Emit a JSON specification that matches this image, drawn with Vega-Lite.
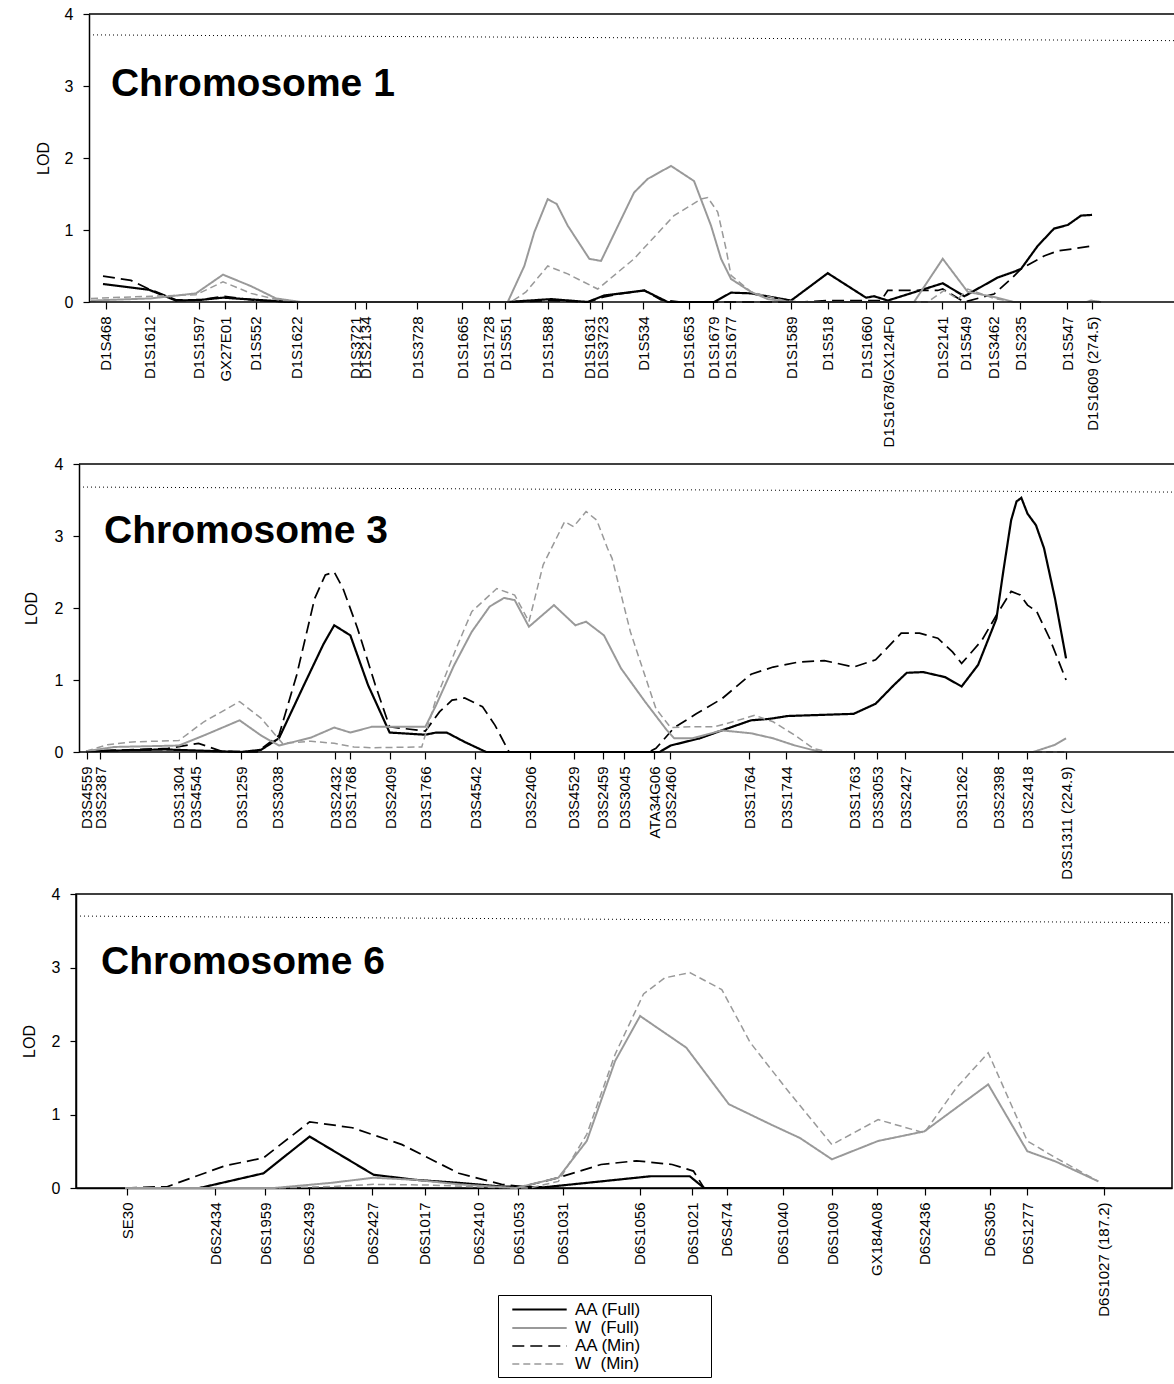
{
  "$schema": "https://vega.github.io/schema/vega-lite/v6.json",
  "background": "white",
  "padding": {"left": 20, "top": 6, "right": 0, "bottom": 0},
  "config": {
    "font": "Liberation Sans",
    "view": {"stroke": null},
    "axis": {"labelColor": "black", "tickColor": "black", "domainColor": "black", "titleColor": "black", "grid": false, "labelFont": "Liberation Sans", "titleFont": "Liberation Sans", "domainWidth": 1.5, "tickWidth": 1.2}
  },
  "datasets": {
    "curves": [
      {"chrom":1,"series":"AA (Full)","cM":3.83,"LOD":0.25},{"chrom":1,"series":"AA (Full)","cM":16.42,"LOD":0.17},{"chrom":1,"series":"AA (Full)","cM":23.81,"LOD":0.02},{"chrom":1,"series":"AA (Full)","cM":30.65,"LOD":0.03},{"chrom":1,"series":"AA (Full)","cM":36.67,"LOD":0.06},{"chrom":1,"series":"AA (Full)","cM":45.98,"LOD":0.03},{"chrom":1,"series":"AA (Full)","cM":55.28,"LOD":0},{"chrom":1,"series":"AA (Full)","cM":114.59,"LOD":0},{"chrom":1,"series":"AA (Full)","cM":126.44,"LOD":0.04},{"chrom":1,"series":"AA (Full)","cM":136.48,"LOD":0},{"chrom":1,"series":"AA (Full)","cM":140.95,"LOD":0.09},{"chrom":1,"series":"AA (Full)","cM":151.97,"LOD":0.16},{"chrom":1,"series":"AA (Full)","cM":158.38,"LOD":0},{"chrom":1,"series":"AA (Full)","cM":171.05,"LOD":0},{"chrom":1,"series":"AA (Full)","cM":175.7,"LOD":0.13},{"chrom":1,"series":"AA (Full)","cM":181.18,"LOD":0.12},{"chrom":1,"series":"AA (Full)","cM":192.12,"LOD":0.02},{"chrom":1,"series":"AA (Full)","cM":202.17,"LOD":0.4},{"chrom":1,"series":"AA (Full)","cM":212.65,"LOD":0.06},{"chrom":1,"series":"AA (Full)","cM":214.84,"LOD":0.08},{"chrom":1,"series":"AA (Full)","cM":218.59,"LOD":0.02},{"chrom":1,"series":"AA (Full)","cM":233.64,"LOD":0.26},{"chrom":1,"series":"AA (Full)","cM":239.55,"LOD":0.08},{"chrom":1,"series":"AA (Full)","cM":248.69,"LOD":0.34},{"chrom":1,"series":"AA (Full)","cM":253.15,"LOD":0.42},{"chrom":1,"series":"AA (Full)","cM":255.07,"LOD":0.46},{"chrom":1,"series":"AA (Full)","cM":259.64,"LOD":0.78},{"chrom":1,"series":"AA (Full)","cM":264.1,"LOD":1.02},{"chrom":1,"series":"AA (Full)","cM":267.85,"LOD":1.07},{"chrom":1,"series":"AA (Full)","cM":271.49,"LOD":1.2},{"chrom":1,"series":"AA (Full)","cM":274.5,"LOD":1.21},
      {"chrom":1,"series":"AA (Min)","cM":3.83,"LOD":0.36},{"chrom":1,"series":"AA (Min)","cM":11.49,"LOD":0.3},{"chrom":1,"series":"AA (Min)","cM":16.42,"LOD":0.18},{"chrom":1,"series":"AA (Min)","cM":23.81,"LOD":0.03},{"chrom":1,"series":"AA (Min)","cM":30.65,"LOD":0.03},{"chrom":1,"series":"AA (Min)","cM":36.67,"LOD":0.08},{"chrom":1,"series":"AA (Min)","cM":45.98,"LOD":0.02},{"chrom":1,"series":"AA (Min)","cM":55.28,"LOD":0},{"chrom":1,"series":"AA (Min)","cM":114.59,"LOD":0},{"chrom":1,"series":"AA (Min)","cM":126.44,"LOD":0.02},{"chrom":1,"series":"AA (Min)","cM":136.48,"LOD":0},{"chrom":1,"series":"AA (Min)","cM":140.95,"LOD":0.07},{"chrom":1,"series":"AA (Min)","cM":144.69,"LOD":0.11},{"chrom":1,"series":"AA (Min)","cM":151.97,"LOD":0.16},{"chrom":1,"series":"AA (Min)","cM":156.54,"LOD":0.03},{"chrom":1,"series":"AA (Min)","cM":162.02,"LOD":0},{"chrom":1,"series":"AA (Min)","cM":194.86,"LOD":0},{"chrom":1,"series":"AA (Min)","cM":202.17,"LOD":0.02},{"chrom":1,"series":"AA (Min)","cM":216.75,"LOD":0.02},{"chrom":1,"series":"AA (Min)","cM":218.59,"LOD":0.16},{"chrom":1,"series":"AA (Min)","cM":232.27,"LOD":0.16},{"chrom":1,"series":"AA (Min)","cM":233.64,"LOD":0.18},{"chrom":1,"series":"AA (Min)","cM":239.47,"LOD":0},{"chrom":1,"series":"AA (Min)","cM":247.68,"LOD":0.11},{"chrom":1,"series":"AA (Min)","cM":252.33,"LOD":0.32},{"chrom":1,"series":"AA (Min)","cM":255.07,"LOD":0.46},{"chrom":1,"series":"AA (Min)","cM":261.36,"LOD":0.64},{"chrom":1,"series":"AA (Min)","cM":265.11,"LOD":0.71},{"chrom":1,"series":"AA (Min)","cM":269.57,"LOD":0.74},{"chrom":1,"series":"AA (Min)","cM":274.5,"LOD":0.78},
      {"chrom":1,"series":"W (Full)","cM":0.55,"LOD":0.02},{"chrom":1,"series":"W (Full)","cM":16.97,"LOD":0.05},{"chrom":1,"series":"W (Full)","cM":29.28,"LOD":0.12},{"chrom":1,"series":"W (Full)","cM":36.67,"LOD":0.38},{"chrom":1,"series":"W (Full)","cM":44.34,"LOD":0.22},{"chrom":1,"series":"W (Full)","cM":51.18,"LOD":0.05},{"chrom":1,"series":"W (Full)","cM":58.02,"LOD":0},{"chrom":1,"series":"W (Full)","cM":114.59,"LOD":0},{"chrom":1,"series":"W (Full)","cM":119.13,"LOD":0.5},{"chrom":1,"series":"W (Full)","cM":121.87,"LOD":0.97},{"chrom":1,"series":"W (Full)","cM":125.54,"LOD":1.43},{"chrom":1,"series":"W (Full)","cM":128.0,"LOD":1.36},{"chrom":1,"series":"W (Full)","cM":131.01,"LOD":1.06},{"chrom":1,"series":"W (Full)","cM":136.92,"LOD":0.6},{"chrom":1,"series":"W (Full)","cM":140.12,"LOD":0.57},{"chrom":1,"series":"W (Full)","cM":149.16,"LOD":1.52},{"chrom":1,"series":"W (Full)","cM":152.9,"LOD":1.71},{"chrom":1,"series":"W (Full)","cM":159.28,"LOD":1.89},{"chrom":1,"series":"W (Full)","cM":165.58,"LOD":1.68},{"chrom":1,"series":"W (Full)","cM":170.23,"LOD":1.06},{"chrom":1,"series":"W (Full)","cM":172.97,"LOD":0.6},{"chrom":1,"series":"W (Full)","cM":175.7,"LOD":0.32},{"chrom":1,"series":"W (Full)","cM":181.18,"LOD":0.14},{"chrom":1,"series":"W (Full)","cM":185.75,"LOD":0.04},{"chrom":1,"series":"W (Full)","cM":192.12,"LOD":0},{"chrom":1,"series":"W (Full)","cM":225.79,"LOD":0},{"chrom":1,"series":"W (Full)","cM":233.64,"LOD":0.6},{"chrom":1,"series":"W (Full)","cM":240.48,"LOD":0.14},{"chrom":1,"series":"W (Full)","cM":247.68,"LOD":0.07},{"chrom":1,"series":"W (Full)","cM":253.15,"LOD":0},{"chrom":1,"series":"W (Full)","cM":272.86,"LOD":0},{"chrom":1,"series":"W (Full)","cM":274.23,"LOD":0.02},{"chrom":1,"series":"W (Full)","cM":276.96,"LOD":0},
      {"chrom":1,"series":"W (Min)","cM":0.55,"LOD":0.05},{"chrom":1,"series":"W (Min)","cM":16.97,"LOD":0.08},{"chrom":1,"series":"W (Min)","cM":29.28,"LOD":0.1},{"chrom":1,"series":"W (Min)","cM":36.67,"LOD":0.28},{"chrom":1,"series":"W (Min)","cM":44.34,"LOD":0.12},{"chrom":1,"series":"W (Min)","cM":52.55,"LOD":0.02},{"chrom":1,"series":"W (Min)","cM":58.02,"LOD":0},{"chrom":1,"series":"W (Min)","cM":115.49,"LOD":0},{"chrom":1,"series":"W (Min)","cM":119.6,"LOD":0.14},{"chrom":1,"series":"W (Min)","cM":125.54,"LOD":0.5},{"chrom":1,"series":"W (Min)","cM":131.01,"LOD":0.39},{"chrom":1,"series":"W (Min)","cM":139.22,"LOD":0.18},{"chrom":1,"series":"W (Min)","cM":149.16,"LOD":0.6},{"chrom":1,"series":"W (Min)","cM":160.1,"LOD":1.2},{"chrom":1,"series":"W (Min)","cM":167.49,"LOD":1.43},{"chrom":1,"series":"W (Min)","cM":169.32,"LOD":1.45},{"chrom":1,"series":"W (Min)","cM":172.06,"LOD":1.25},{"chrom":1,"series":"W (Min)","cM":174.33,"LOD":0.74},{"chrom":1,"series":"W (Min)","cM":175.7,"LOD":0.37},{"chrom":1,"series":"W (Min)","cM":181.18,"LOD":0.14},{"chrom":1,"series":"W (Min)","cM":190.21,"LOD":0.02},{"chrom":1,"series":"W (Min)","cM":194.86,"LOD":0},{"chrom":1,"series":"W (Min)","cM":229.54,"LOD":0},{"chrom":1,"series":"W (Min)","cM":234.0,"LOD":0.16},{"chrom":1,"series":"W (Min)","cM":237.74,"LOD":0.04},{"chrom":1,"series":"W (Min)","cM":240.48,"LOD":0.18},{"chrom":1,"series":"W (Min)","cM":247.68,"LOD":0.05},{"chrom":1,"series":"W (Min)","cM":253.15,"LOD":0},{"chrom":1,"series":"W (Min)","cM":276.96,"LOD":0},

      {"chrom":3,"series":"AA (Full)","cM":1.6,"LOD":0.01},{"chrom":3,"series":"AA (Full)","cM":19.5,"LOD":0.035},{"chrom":3,"series":"AA (Full)","cM":27.23,"LOD":0.02},{"chrom":3,"series":"AA (Full)","cM":36.91,"LOD":0},{"chrom":3,"series":"AA (Full)","cM":41.47,"LOD":0.03},{"chrom":3,"series":"AA (Full)","cM":45.55,"LOD":0.19},{"chrom":3,"series":"AA (Full)","cM":51.25,"LOD":0.93},{"chrom":3,"series":"AA (Full)","cM":55.71,"LOD":1.5},{"chrom":3,"series":"AA (Full)","cM":58.15,"LOD":1.76},{"chrom":3,"series":"AA (Full)","cM":61.82,"LOD":1.62},{"chrom":3,"series":"AA (Full)","cM":65.85,"LOD":0.93},{"chrom":3,"series":"AA (Full)","cM":70.77,"LOD":0.27},{"chrom":3,"series":"AA (Full)","cM":78.91,"LOD":0.24},{"chrom":3,"series":"AA (Full)","cM":81.35,"LOD":0.27},{"chrom":3,"series":"AA (Full)","cM":83.78,"LOD":0.27},{"chrom":3,"series":"AA (Full)","cM":87.86,"LOD":0.14},{"chrom":3,"series":"AA (Full)","cM":92.74,"LOD":0},{"chrom":3,"series":"AA (Full)","cM":132.29,"LOD":0},{"chrom":3,"series":"AA (Full)","cM":134.78,"LOD":0.09},{"chrom":3,"series":"AA (Full)","cM":141.45,"LOD":0.19},{"chrom":3,"series":"AA (Full)","cM":146.47,"LOD":0.3},{"chrom":3,"series":"AA (Full)","cM":153.12,"LOD":0.44},{"chrom":3,"series":"AA (Full)","cM":157.31,"LOD":0.46},{"chrom":3,"series":"AA (Full)","cM":161.48,"LOD":0.5},{"chrom":3,"series":"AA (Full)","cM":176.5,"LOD":0.53},{"chrom":3,"series":"AA (Full)","cM":181.49,"LOD":0.67},{"chrom":3,"series":"AA (Full)","cM":185.66,"LOD":0.93},{"chrom":3,"series":"AA (Full)","cM":188.58,"LOD":1.1},{"chrom":3,"series":"AA (Full)","cM":192.34,"LOD":1.11},{"chrom":3,"series":"AA (Full)","cM":197.33,"LOD":1.04},{"chrom":3,"series":"AA (Full)","cM":201.09,"LOD":0.91},{"chrom":3,"series":"AA (Full)","cM":204.84,"LOD":1.21},{"chrom":3,"series":"AA (Full)","cM":209.01,"LOD":1.85},{"chrom":3,"series":"AA (Full)","cM":210.68,"LOD":2.55},{"chrom":3,"series":"AA (Full)","cM":212.37,"LOD":3.22},{"chrom":3,"series":"AA (Full)","cM":213.6,"LOD":3.48},{"chrom":3,"series":"AA (Full)","cM":214.69,"LOD":3.53},{"chrom":3,"series":"AA (Full)","cM":216.1,"LOD":3.31},{"chrom":3,"series":"AA (Full)","cM":218.02,"LOD":3.15},{"chrom":3,"series":"AA (Full)","cM":219.86,"LOD":2.83},{"chrom":3,"series":"AA (Full)","cM":222.37,"LOD":2.13},{"chrom":3,"series":"AA (Full)","cM":224.88,"LOD":1.3},
      {"chrom":3,"series":"AA (Min)","cM":1.6,"LOD":0.01},{"chrom":3,"series":"AA (Min)","cM":20.28,"LOD":0.05},{"chrom":3,"series":"AA (Min)","cM":27.23,"LOD":0.12},{"chrom":3,"series":"AA (Min)","cM":32.52,"LOD":0.01},{"chrom":3,"series":"AA (Min)","cM":40.56,"LOD":0},{"chrom":3,"series":"AA (Min)","cM":45.55,"LOD":0.23},{"chrom":3,"series":"AA (Min)","cM":49.6,"LOD":1.07},{"chrom":3,"series":"AA (Min)","cM":53.68,"LOD":2.13},{"chrom":3,"series":"AA (Min)","cM":56.12,"LOD":2.46},{"chrom":3,"series":"AA (Min)","cM":58.15,"LOD":2.5},{"chrom":3,"series":"AA (Min)","cM":60.16,"LOD":2.27},{"chrom":3,"series":"AA (Min)","cM":63.44,"LOD":1.72},{"chrom":3,"series":"AA (Min)","cM":67.51,"LOD":0.93},{"chrom":3,"series":"AA (Min)","cM":70.77,"LOD":0.35},{"chrom":3,"series":"AA (Min)","cM":78.91,"LOD":0.29},{"chrom":3,"series":"AA (Min)","cM":82.17,"LOD":0.56},{"chrom":3,"series":"AA (Min)","cM":84.99,"LOD":0.72},{"chrom":3,"series":"AA (Min)","cM":87.86,"LOD":0.75},{"chrom":3,"series":"AA (Min)","cM":91.92,"LOD":0.63},{"chrom":3,"series":"AA (Min)","cM":94.79,"LOD":0.37},{"chrom":3,"series":"AA (Min)","cM":97.98,"LOD":0},{"chrom":3,"series":"AA (Min)","cM":129.79,"LOD":0},{"chrom":3,"series":"AA (Min)","cM":131.45,"LOD":0.05},{"chrom":3,"series":"AA (Min)","cM":135.62,"LOD":0.34},{"chrom":3,"series":"AA (Min)","cM":140.63,"LOD":0.53},{"chrom":3,"series":"AA (Min)","cM":146.47,"LOD":0.74},{"chrom":3,"series":"AA (Min)","cM":153.12,"LOD":1.08},{"chrom":3,"series":"AA (Min)","cM":158.14,"LOD":1.18},{"chrom":3,"series":"AA (Min)","cM":163.99,"LOD":1.25},{"chrom":3,"series":"AA (Min)","cM":169.82,"LOD":1.27},{"chrom":3,"series":"AA (Min)","cM":176.5,"LOD":1.18},{"chrom":3,"series":"AA (Min)","cM":181.49,"LOD":1.28},{"chrom":3,"series":"AA (Min)","cM":187.32,"LOD":1.65},{"chrom":3,"series":"AA (Min)","cM":191.49,"LOD":1.65},{"chrom":3,"series":"AA (Min)","cM":195.66,"LOD":1.58},{"chrom":3,"series":"AA (Min)","cM":199.01,"LOD":1.39},{"chrom":3,"series":"AA (Min)","cM":201.09,"LOD":1.23},{"chrom":3,"series":"AA (Min)","cM":205.69,"LOD":1.55},{"chrom":3,"series":"AA (Min)","cM":209.01,"LOD":1.9},{"chrom":3,"series":"AA (Min)","cM":212.37,"LOD":2.23},{"chrom":3,"series":"AA (Min)","cM":214.44,"LOD":2.18},{"chrom":3,"series":"AA (Min)","cM":216.1,"LOD":2.04},{"chrom":3,"series":"AA (Min)","cM":218.2,"LOD":1.95},{"chrom":3,"series":"AA (Min)","cM":221.12,"LOD":1.58},{"chrom":3,"series":"AA (Min)","cM":224.88,"LOD":1.0},
      {"chrom":3,"series":"W (Full)","cM":1.6,"LOD":0.01},{"chrom":3,"series":"W (Full)","cM":8.11,"LOD":0.07},{"chrom":3,"series":"W (Full)","cM":22.76,"LOD":0.09},{"chrom":3,"series":"W (Full)","cM":28.46,"LOD":0.23},{"chrom":3,"series":"W (Full)","cM":36.59,"LOD":0.44},{"chrom":3,"series":"W (Full)","cM":41.47,"LOD":0.23},{"chrom":3,"series":"W (Full)","cM":45.55,"LOD":0.09},{"chrom":3,"series":"W (Full)","cM":52.86,"LOD":0.2},{"chrom":3,"series":"W (Full)","cM":58.15,"LOD":0.34},{"chrom":3,"series":"W (Full)","cM":61.82,"LOD":0.27},{"chrom":3,"series":"W (Full)","cM":66.69,"LOD":0.35},{"chrom":3,"series":"W (Full)","cM":78.91,"LOD":0.35},{"chrom":3,"series":"W (Full)","cM":81.35,"LOD":0.65},{"chrom":3,"series":"W (Full)","cM":85.42,"LOD":1.2},{"chrom":3,"series":"W (Full)","cM":89.48,"LOD":1.67},{"chrom":3,"series":"W (Full)","cM":93.56,"LOD":2.02},{"chrom":3,"series":"W (Full)","cM":96.82,"LOD":2.14},{"chrom":3,"series":"W (Full)","cM":99.26,"LOD":2.11},{"chrom":3,"series":"W (Full)","cM":102.51,"LOD":1.74},{"chrom":3,"series":"W (Full)","cM":108.21,"LOD":2.04},{"chrom":3,"series":"W (Full)","cM":113.09,"LOD":1.76},{"chrom":3,"series":"W (Full)","cM":115.52,"LOD":1.81},{"chrom":3,"series":"W (Full)","cM":119.6,"LOD":1.62},{"chrom":3,"series":"W (Full)","cM":123.5,"LOD":1.16},{"chrom":3,"series":"W (Full)","cM":128.95,"LOD":0.7},{"chrom":3,"series":"W (Full)","cM":133.96,"LOD":0.3},{"chrom":3,"series":"W (Full)","cM":135.62,"LOD":0.19},{"chrom":3,"series":"W (Full)","cM":139.79,"LOD":0.19},{"chrom":3,"series":"W (Full)","cM":146.47,"LOD":0.3},{"chrom":3,"series":"W (Full)","cM":153.12,"LOD":0.26},{"chrom":3,"series":"W (Full)","cM":158.14,"LOD":0.19},{"chrom":3,"series":"W (Full)","cM":163.15,"LOD":0.09},{"chrom":3,"series":"W (Full)","cM":168.98,"LOD":0},{"chrom":3,"series":"W (Full)","cM":217.36,"LOD":0},{"chrom":3,"series":"W (Full)","cM":222.37,"LOD":0.1},{"chrom":3,"series":"W (Full)","cM":224.88,"LOD":0.19},
      {"chrom":3,"series":"W (Min)","cM":1.6,"LOD":0.01},{"chrom":3,"series":"W (Min)","cM":6.47,"LOD":0.1},{"chrom":3,"series":"W (Min)","cM":12.17,"LOD":0.14},{"chrom":3,"series":"W (Min)","cM":22.76,"LOD":0.16},{"chrom":3,"series":"W (Min)","cM":28.46,"LOD":0.42},{"chrom":3,"series":"W (Min)","cM":36.59,"LOD":0.7},{"chrom":3,"series":"W (Min)","cM":41.47,"LOD":0.47},{"chrom":3,"series":"W (Min)","cM":46.35,"LOD":0.12},{"chrom":3,"series":"W (Min)","cM":52.86,"LOD":0.15},{"chrom":3,"series":"W (Min)","cM":58.15,"LOD":0.12},{"chrom":3,"series":"W (Min)","cM":62.64,"LOD":0.07},{"chrom":3,"series":"W (Min)","cM":66.69,"LOD":0.06},{"chrom":3,"series":"W (Min)","cM":78.09,"LOD":0.07},{"chrom":3,"series":"W (Min)","cM":81.35,"LOD":0.74},{"chrom":3,"series":"W (Min)","cM":86.22,"LOD":1.48},{"chrom":3,"series":"W (Min)","cM":89.48,"LOD":1.95},{"chrom":3,"series":"W (Min)","cM":95.18,"LOD":2.27},{"chrom":3,"series":"W (Min)","cM":99.26,"LOD":2.18},{"chrom":3,"series":"W (Min)","cM":102.51,"LOD":1.81},{"chrom":3,"series":"W (Min)","cM":105.75,"LOD":2.6},{"chrom":3,"series":"W (Min)","cM":110.65,"LOD":3.2},{"chrom":3,"series":"W (Min)","cM":112.68,"LOD":3.13},{"chrom":3,"series":"W (Min)","cM":115.52,"LOD":3.34},{"chrom":3,"series":"W (Min)","cM":117.96,"LOD":3.22},{"chrom":3,"series":"W (Min)","cM":120.4,"LOD":2.83},{"chrom":3,"series":"W (Min)","cM":121.45,"LOD":2.69},{"chrom":3,"series":"W (Min)","cM":125.62,"LOD":1.67},{"chrom":3,"series":"W (Min)","cM":131.45,"LOD":0.6},{"chrom":3,"series":"W (Min)","cM":134.78,"LOD":0.34},{"chrom":3,"series":"W (Min)","cM":139.79,"LOD":0.35},{"chrom":3,"series":"W (Min)","cM":144.8,"LOD":0.35},{"chrom":3,"series":"W (Min)","cM":148.97,"LOD":0.42},{"chrom":3,"series":"W (Min)","cM":153.96,"LOD":0.51},{"chrom":3,"series":"W (Min)","cM":158.14,"LOD":0.42},{"chrom":3,"series":"W (Min)","cM":163.15,"LOD":0.23},{"chrom":3,"series":"W (Min)","cM":167.31,"LOD":0.05},{"chrom":3,"series":"W (Min)","cM":170.67,"LOD":0},{"chrom":3,"series":"W (Min)","cM":224.88,"LOD":0},

      {"chrom":6,"series":"AA (Full)","cM":8.92,"LOD":0},{"chrom":6,"series":"AA (Full)","cM":22.49,"LOD":0},{"chrom":6,"series":"AA (Full)","cM":34.15,"LOD":0.2},{"chrom":6,"series":"AA (Full)","cM":42.55,"LOD":0.7},{"chrom":6,"series":"AA (Full)","cM":54.2,"LOD":0.18},{"chrom":6,"series":"AA (Full)","cM":61.96,"LOD":0.11},{"chrom":6,"series":"AA (Full)","cM":69.72,"LOD":0.07},{"chrom":6,"series":"AA (Full)","cM":77.5,"LOD":0.02},{"chrom":6,"series":"AA (Full)","cM":85.26,"LOD":0.01},{"chrom":6,"series":"AA (Full)","cM":95.62,"LOD":0.09},{"chrom":6,"series":"AA (Full)","cM":104.68,"LOD":0.16},{"chrom":6,"series":"AA (Full)","cM":111.78,"LOD":0.16},{"chrom":6,"series":"AA (Full)","cM":114.38,"LOD":0},{"chrom":6,"series":"AA (Full)","cM":187.42,"LOD":0},
      {"chrom":6,"series":"AA (Min)","cM":8.92,"LOD":0},{"chrom":6,"series":"AA (Min)","cM":16.68,"LOD":0.02},{"chrom":6,"series":"AA (Min)","cM":27.03,"LOD":0.3},{"chrom":6,"series":"AA (Min)","cM":34.15,"LOD":0.41},{"chrom":6,"series":"AA (Min)","cM":42.55,"LOD":0.9},{"chrom":6,"series":"AA (Min)","cM":50.33,"LOD":0.82},{"chrom":6,"series":"AA (Min)","cM":59.38,"LOD":0.59},{"chrom":6,"series":"AA (Min)","cM":69.72,"LOD":0.2},{"chrom":6,"series":"AA (Min)","cM":77.5,"LOD":0.05},{"chrom":6,"series":"AA (Min)","cM":81.38,"LOD":0.02},{"chrom":6,"series":"AA (Min)","cM":87.85,"LOD":0.14},{"chrom":6,"series":"AA (Min)","cM":95.62,"LOD":0.32},{"chrom":6,"series":"AA (Min)","cM":102.09,"LOD":0.37},{"chrom":6,"series":"AA (Min)","cM":108.56,"LOD":0.32},{"chrom":6,"series":"AA (Min)","cM":112.44,"LOD":0.23},{"chrom":6,"series":"AA (Min)","cM":114.38,"LOD":0},{"chrom":6,"series":"AA (Min)","cM":187.42,"LOD":0},
      {"chrom":6,"series":"W (Full)","cM":8.92,"LOD":0},{"chrom":6,"series":"W (Full)","cM":36.06,"LOD":0},{"chrom":6,"series":"W (Full)","cM":46.45,"LOD":0.07},{"chrom":6,"series":"W (Full)","cM":54.2,"LOD":0.14},{"chrom":6,"series":"W (Full)","cM":61.96,"LOD":0.11},{"chrom":6,"series":"W (Full)","cM":69.72,"LOD":0.05},{"chrom":6,"series":"W (Full)","cM":80.09,"LOD":0},{"chrom":6,"series":"W (Full)","cM":87.85,"LOD":0.14},{"chrom":6,"series":"W (Full)","cM":93.02,"LOD":0.64},{"chrom":6,"series":"W (Full)","cM":98.19,"LOD":1.73},{"chrom":6,"series":"W (Full)","cM":102.73,"LOD":2.34},{"chrom":6,"series":"W (Full)","cM":111.14,"LOD":1.91},{"chrom":6,"series":"W (Full)","cM":118.9,"LOD":1.14},{"chrom":6,"series":"W (Full)","cM":126.66,"LOD":0.86},{"chrom":6,"series":"W (Full)","cM":131.85,"LOD":0.68},{"chrom":6,"series":"W (Full)","cM":137.66,"LOD":0.39},{"chrom":6,"series":"W (Full)","cM":146.08,"LOD":0.64},{"chrom":6,"series":"W (Full)","cM":154.49,"LOD":0.77},{"chrom":6,"series":"W (Full)","cM":160.3,"LOD":1.09},{"chrom":6,"series":"W (Full)","cM":166.13,"LOD":1.41},{"chrom":6,"series":"W (Full)","cM":173.25,"LOD":0.5},{"chrom":6,"series":"W (Full)","cM":178.43,"LOD":0.36},{"chrom":6,"series":"W (Full)","cM":186.18,"LOD":0.09},
      {"chrom":6,"series":"W (Min)","cM":8.92,"LOD":0},{"chrom":6,"series":"W (Min)","cM":36.06,"LOD":0},{"chrom":6,"series":"W (Min)","cM":46.45,"LOD":0.02},{"chrom":6,"series":"W (Min)","cM":54.2,"LOD":0.05},{"chrom":6,"series":"W (Min)","cM":64.55,"LOD":0.04},{"chrom":6,"series":"W (Min)","cM":74.91,"LOD":0.01},{"chrom":6,"series":"W (Min)","cM":82.67,"LOD":0},{"chrom":6,"series":"W (Min)","cM":87.85,"LOD":0.09},{"chrom":6,"series":"W (Min)","cM":93.02,"LOD":0.73},{"chrom":6,"series":"W (Min)","cM":98.19,"LOD":1.82},{"chrom":6,"series":"W (Min)","cM":103.36,"LOD":2.64},{"chrom":6,"series":"W (Min)","cM":107.26,"LOD":2.86},{"chrom":6,"series":"W (Min)","cM":111.78,"LOD":2.93},{"chrom":6,"series":"W (Min)","cM":117.61,"LOD":2.7},{"chrom":6,"series":"W (Min)","cM":122.78,"LOD":1.98},{"chrom":6,"series":"W (Min)","cM":129.25,"LOD":1.36},{"chrom":6,"series":"W (Min)","cM":137.66,"LOD":0.59},{"chrom":6,"series":"W (Min)","cM":146.08,"LOD":0.93},{"chrom":6,"series":"W (Min)","cM":154.49,"LOD":0.75},{"chrom":6,"series":"W (Min)","cM":160.3,"LOD":1.36},{"chrom":6,"series":"W (Min)","cM":166.13,"LOD":1.84},{"chrom":6,"series":"W (Min)","cM":173.25,"LOD":0.64},{"chrom":6,"series":"W (Min)","cM":178.43,"LOD":0.41},{"chrom":6,"series":"W (Min)","cM":186.18,"LOD":0.09}
    ],
    "thresholds": [
      {"chrom":1,"cM":0,"LOD":3.71},{"chrom":1,"cM":297.2,"LOD":3.63},
      {"chrom":3,"cM":0,"LOD":3.68},{"chrom":3,"cM":249.7,"LOD":3.61},
      {"chrom":6,"cM":0,"LOD":3.7},{"chrom":6,"cM":199.6,"LOD":3.61}
    ],
    "titles": [
      {"chrom":1,"label":"Chromosome 1"},{"chrom":3,"label":"Chromosome 3"},{"chrom":6,"label":"Chromosome 6"}
    ],
    "frame": [{"edge":"top"}]
  },
  "vconcat": [
    {
      "width": 1099, "height": 288,
      "layer": [
        {"data": {"name": "curves"}, "transform": [{"filter": "datum.chrom == 1"}],
         "mark": {"type": "line"},
         "encoding": {
           "x": {"field": "cM", "type": "quantitative", "scale": {"domain": [-3.558, 297.2], "nice": false, "zero": false},
                 "axis": {"title": null, "domain": false, "tickCount": 60, "values": [4.54,16.48,29.97,37.22,45.6,56.84,72.8,75.7,89.77,102.08,109.34,113.85,125.56,137,140.48,151.7,164.13,170.86,175.51,192.12,202.17,212.65,218.75,233.45,239.74,247.49,254.8,267.66,274.5],
                          "labelExpr": "['D1S468','D1S1612','D1S1597','GX27E01','D1S552','D1S1622','D1S3721','D1S2134','D1S3728','D1S1665','D1S1728','D1S551','D1S1588','D1S1631','D1S3723','D1S534','D1S1653','D1S1679','D1S1677','D1S1589','D1S518','D1S1660','D1S1678/GX124F0','D1S2141','D1S549','D1S3462','D1S235','D1S547','D1S1609 (274.5)'][indexof([4.54,16.48,29.97,37.22,45.6,56.84,72.8,75.7,89.77,102.08,109.34,113.85,125.56,137,140.48,151.7,164.13,170.86,175.51,192.12,202.17,212.65,218.75,233.45,239.74,247.49,254.8,267.66,274.5], datum.value)]",
                          "labelAngle": 270, "labelFontSize": 15, "labelOverlap": false, "labelFlush": false, "labelBound": false, "tickSize": 7, "labelPadding": 7}},
           "y": {"field": "LOD", "type": "quantitative", "scale": {"domain": [0, 4], "nice": false},
                 "axis": {"values": [0,1,2,3,4], "format": "d", "offset": -13, "title": "LOD", "titleFontSize": 16, "titleFontWeight": "normal", "labelFontSize": 16, "tickSize": 6, "labelPadding": 10, "titlePadding": 8, "minExtent": 30, "maxExtent": 30}},
           "color": {"field": "series", "type": "ordinal", "scale": {"domain": ["AA (Full)", "W (Full)", "AA (Min)", "W (Min)"], "range": ["#000000", "#999999", "#000000", "#999999"]},
                     "legend": {"title": null, "orient": "none", "legendX": 422, "legendY": 1281, "direction": "vertical", "strokeColor": "black", "padding": 5, "labelFontSize": 17, "labelFont": "Liberation Sans", "labelColor": "black", "symbolSize": 256, "symbolType": "M-3.4,0H3.4", "symbolOffset": 27, "rowPadding": 1, "labelOffset": 26, "labelLimit": 300,
                                "labelExpr": "replace(datum.label, 'W (', 'W\u00a0 (') + '\u00a0\u00a0\u00a0\u00a0\u00a0\u00a0\u00a0\u00a0\u00a0\u00a0\u00a0\u2800'"}},
           "strokeDash": {"field": "series", "type": "ordinal", "scale": {"domain": ["AA (Full)", "W (Full)", "AA (Min)", "W (Min)"], "range": [[1,0],[1,0],[12,6],[7,4]]}},
           "strokeWidth": {"field": "series", "type": "ordinal", "scale": {"domain": ["AA (Full)", "W (Full)", "AA (Min)", "W (Min)"], "range": [2.2, 1.5, 2.2, 1.5]}}
         }},
        {"data": {"name": "thresholds"}, "transform": [{"filter": "datum.chrom == 1"}],
         "mark": {"type": "line", "color": "black", "strokeWidth": 1, "strokeDash": [1, 3]},
         "encoding": {"x": {"field": "cM", "type": "quantitative"}, "y": {"field": "LOD", "type": "quantitative"}}},
        {"data": {"name": "frame"}, "mark": {"type": "rule", "color": "black", "strokeWidth": 1.5},
         "encoding": {"x": {"datum": 0}, "x2": {"datum": 297.2}, "y": {"datum": 4}}},
        {"data": {"name": "frame"}, "mark": {"type": "rule", "color": "black", "strokeWidth": 1.5},
         "encoding": {"x": {"datum": 0}, "x2": {"datum": 297.2}, "y": {"datum": 0}}},
        {"data": {"name": "titles"}, "transform": [{"filter": "datum.chrom == 1"}],
         "mark": {"type": "text", "align": "left", "baseline": "alphabetic", "fontSize": 39, "fontWeight": "bold", "font": "Liberation Sans", "color": "black"},
         "encoding": {"x": {"datum": 6.0}, "y": {"datum": 2.86}, "text": {"field": "label"}}}
      ]
    },
    {
      "spacing": 5,
      "vconcat": [
        {
          "width": 1099, "height": 288,
          "layer": [
            {"data": {"name": "curves"}, "transform": [{"filter": "datum.chrom == 3"}],
             "mark": {"type": "line"},
             "encoding": {
               "x": {"field": "cM", "type": "quantitative", "scale": {"domain": [-0.684, 249.7], "nice": false, "zero": false},
                     "axis": {"title": null, "domain": false, "tickCount": 60, "values": [1.75,4.85,22.76,26.57,37,45.12,58.4,61.82,70.93,78.91,90.3,102.76,112.68,119.35,124.25,131.09,134.73,152.73,161.1,176.66,181.83,188.21,201.13,209.47,216.02,224.9],
                              "labelExpr": "['D3S4559','D3S2387','D3S1304','D3S4545','D3S1259','D3S3038','D3S2432','D3S1768','D3S2409','D3S1766','D3S4542','D3S2406','D3S4529','D3S2459','D3S3045','ATA34G06','D3S2460','D3S1764','D3S1744','D3S1763','D3S3053','D3S2427','D3S1262','D3S2398','D3S2418','D3S1311 (224.9)'][indexof([1.75,4.85,22.76,26.57,37,45.12,58.4,61.82,70.93,78.91,90.3,102.76,112.68,119.35,124.25,131.09,134.73,152.73,161.1,176.66,181.83,188.21,201.13,209.47,216.02,224.9], datum.value)]",
                              "labelAngle": 270, "labelFontSize": 15, "labelOverlap": false, "labelFlush": false, "labelBound": false, "tickSize": 7, "labelPadding": 7}},
               "y": {"field": "LOD", "type": "quantitative", "scale": {"domain": [0, 4], "nice": false},
                     "axis": {"values": [0,1,2,3,4], "format": "d", "offset": -3, "title": "LOD", "titleFontSize": 16, "titleFontWeight": "normal", "labelFontSize": 16, "tickSize": 6, "labelPadding": 10, "titlePadding": 8, "minExtent": 32, "maxExtent": 32}},
               "color": {"field": "series", "type": "ordinal", "scale": {"domain": ["AA (Full)", "W (Full)", "AA (Min)", "W (Min)"], "range": ["#000000", "#999999", "#000000", "#999999"]}},
               "strokeDash": {"field": "series", "type": "ordinal", "scale": {"domain": ["AA (Full)", "W (Full)", "AA (Min)", "W (Min)"], "range": [[1,0],[1,0],[12,6],[7,4]]}},
               "strokeWidth": {"field": "series", "type": "ordinal", "scale": {"domain": ["AA (Full)", "W (Full)", "AA (Min)", "W (Min)"], "range": [2.2, 1.5, 2.2, 1.5]}}
             }},
            {"data": {"name": "thresholds"}, "transform": [{"filter": "datum.chrom == 3"}],
             "mark": {"type": "line", "color": "black", "strokeWidth": 1, "strokeDash": [1, 3]},
             "encoding": {"x": {"field": "cM", "type": "quantitative"}, "y": {"field": "LOD", "type": "quantitative"}}},
            {"data": {"name": "frame"}, "mark": {"type": "rule", "color": "black", "strokeWidth": 1.5},
             "encoding": {"x": {"datum": 0}, "x2": {"datum": 249.7}, "y": {"datum": 4}}},
            {"data": {"name": "frame"}, "mark": {"type": "rule", "color": "black", "strokeWidth": 1.5},
             "encoding": {"x": {"datum": 0}, "x2": {"datum": 249.7}, "y": {"datum": 0}}},
            {"data": {"name": "titles"}, "transform": [{"filter": "datum.chrom == 3"}],
             "mark": {"type": "text", "align": "left", "baseline": "alphabetic", "fontSize": 39, "fontWeight": "bold", "font": "Liberation Sans", "color": "black"},
             "encoding": {"x": {"datum": 5.7}, "y": {"datum": 2.9}, "text": {"field": "label"}}}
          ]
        },
        {
          "width": 1096, "height": 294,
          "view": {"stroke": "black", "strokeWidth": 1.5},
          "layer": [
            {"data": {"name": "curves"}, "transform": [{"filter": "datum.chrom == 6"}],
             "mark": {"type": "line"},
             "encoding": {
               "x": {"field": "cM", "type": "quantitative", "scale": {"domain": [0, 199.6], "nice": false, "zero": false},
                     "axis": {"title": null, "tickCount": 60, "values": [9.29,25.37,34.48,42.35,53.99,63.49,73.24,80.53,88.67,102.71,112.25,118.52,128.68,137.77,145.8,154.58,166.37,173.27,187.2],
                              "labelExpr": "['SE30','D6S2434','D6S1959','D6S2439','D6S2427','D6S1017','D6S2410','D6S1053','D6S1031','D6S1056','D6S1021','D6S474','D6S1040','D6S1009','GX184A08','D6S2436','D6S305','D6S1277','D6S1027 (187.2)'][indexof([9.29,25.37,34.48,42.35,53.99,63.49,73.24,80.53,88.67,102.71,112.25,118.52,128.68,137.77,145.8,154.58,166.37,173.27,187.2], datum.value)]",
                              "labelAngle": 270, "labelFontSize": 15, "labelOverlap": false, "labelFlush": false, "labelBound": false, "tickSize": 7, "labelPadding": 7}},
               "y": {"field": "LOD", "type": "quantitative", "scale": {"domain": [0, 4], "nice": false},
                     "axis": {"values": [0,1,2,3,4], "format": "d", "title": "LOD", "titleFontSize": 16, "titleFontWeight": "normal", "labelFontSize": 16, "tickSize": 6, "labelPadding": 10, "titlePadding": 8, "minExtent": 31, "maxExtent": 31}},
               "color": {"field": "series", "type": "ordinal", "scale": {"domain": ["AA (Full)", "W (Full)", "AA (Min)", "W (Min)"], "range": ["#000000", "#999999", "#000000", "#999999"]}},
               "strokeDash": {"field": "series", "type": "ordinal", "scale": {"domain": ["AA (Full)", "W (Full)", "AA (Min)", "W (Min)"], "range": [[1,0],[1,0],[12,6],[7,4]]}},
               "strokeWidth": {"field": "series", "type": "ordinal", "scale": {"domain": ["AA (Full)", "W (Full)", "AA (Min)", "W (Min)"], "range": [2.2, 1.5, 2.2, 1.5]}}
             }},
            {"data": {"name": "thresholds"}, "transform": [{"filter": "datum.chrom == 6"}],
             "mark": {"type": "line", "color": "black", "strokeWidth": 1, "strokeDash": [1, 3]},
             "encoding": {"x": {"field": "cM", "type": "quantitative"}, "y": {"field": "LOD", "type": "quantitative"}}},
            {"data": {"name": "titles"}, "transform": [{"filter": "datum.chrom == 6"}],
             "mark": {"type": "text", "align": "left", "baseline": "alphabetic", "fontSize": 39, "fontWeight": "bold", "font": "Liberation Sans", "color": "black"},
             "encoding": {"x": {"datum": 4.55}, "y": {"datum": 2.91}, "text": {"field": "label"}}}
          ]
        }
      ]
    }
  ],
  "spacing": 9
}
